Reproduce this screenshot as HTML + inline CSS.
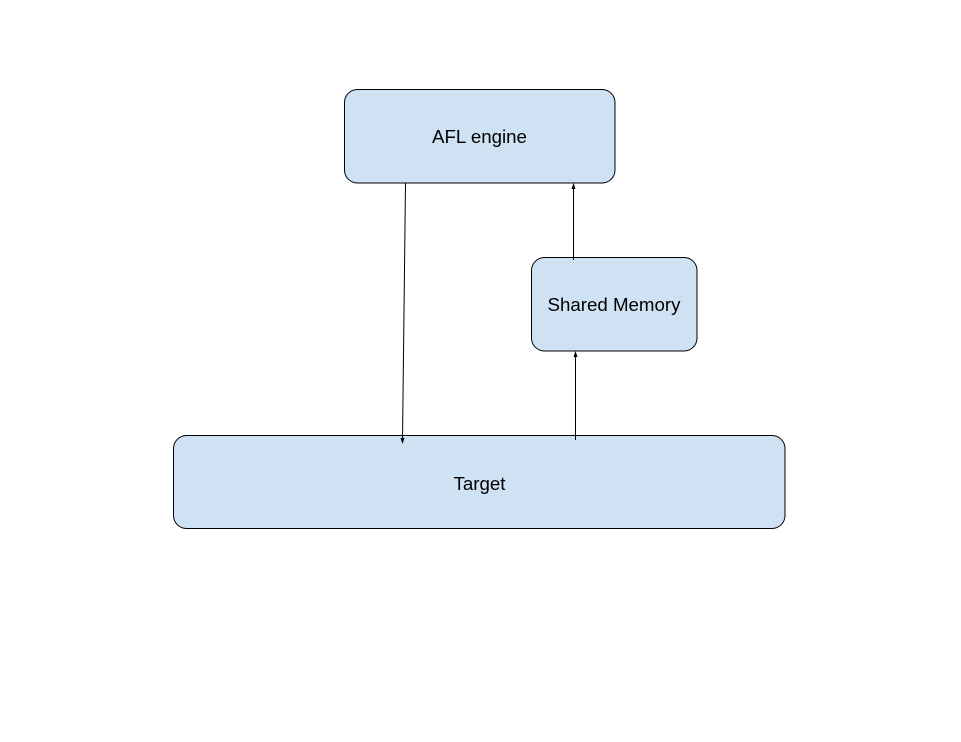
<!DOCTYPE html>
<html><head><style>body{margin:0;background:#fff}svg{display:block}</style></head><body>
<svg width="961" height="742" xmlns="http://www.w3.org/2000/svg" font-family="Liberation Sans, Arial, sans-serif">
<rect x="0" y="0" width="961" height="742" fill="#fff"/>
<rect x="344.5" y="89.5" width="270.5" height="93.5" rx="13" fill="#cfe2f3" stroke="#000" stroke-width="1"/>
<rect x="531.5" y="257.5" width="165.5" height="93.5" rx="13" fill="#cfe2f3" stroke="#000" stroke-width="1"/>
<rect x="173.5" y="435.5" width="611.5" height="93" rx="13" fill="#cfe2f3" stroke="#000" stroke-width="1"/>
<text x="479.5" y="143" font-size="18.7" text-anchor="middle">AFL engine</text>
<text x="614" y="311" font-size="18.7" text-anchor="middle">Shared Memory</text>
<text x="479.5" y="490" font-size="18.7" text-anchor="middle">Target</text>
<g stroke="#000" stroke-width="1" fill="#000">
<line x1="405.5" y1="183" x2="402.5" y2="440"/>
<polygon points="400.5,438 404.5,438 402.5,444" stroke="none"/>
<line x1="573.5" y1="260" x2="573.5" y2="187"/>
<polygon points="571.5,189 575.5,189 573.5,183" stroke="none"/>
<line x1="575.5" y1="440" x2="575.5" y2="355"/>
<polygon points="573.5,357 577.5,357 575.5,351" stroke="none"/>
</g>
</svg>
</body></html>
